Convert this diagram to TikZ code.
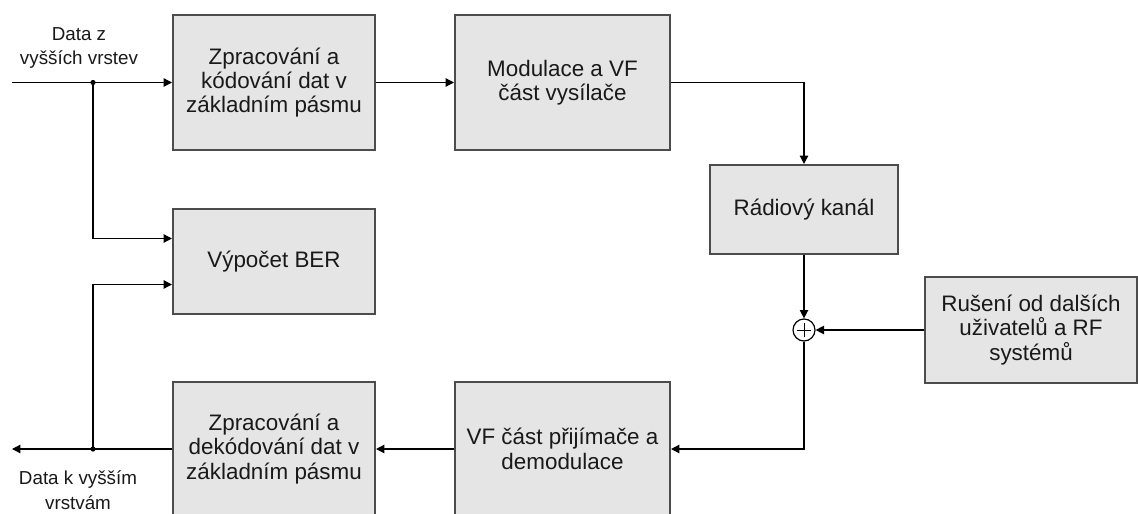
\documentclass[tikz,border=0pt]{standalone}
\usepackage{fontspec}
\setmainfont{Liberation Sans}
\usetikzlibrary{arrows.meta}

\begin{document}
\begin{tikzpicture}[x=0.5pt, y=-0.5pt,
        block/.style={draw=black!70, line width=1pt, fill=black!10, align=center, inner sep=0pt,
            text=black!90, font=\fontsize{11.2}{12.2}\selectfont},
        datatext/.style={align=center, text=black!90, font=\fontsize{9.4}{12.2}\selectfont},
        sig/.style={-{Triangle[length=4.2pt, width=4.2pt]}, line width=0.65pt},
        adder/.style={circle, draw, line width=0.6pt, fill=white, minimum size=11pt, inner sep=0pt,
            path picture={
                \draw[line width=0.5pt] ([xshift=-3.6pt]path picture bounding box.center) -- ([xshift=3.6pt]path picture bounding box.center);
                \draw[line width=0.5pt] ([yshift=-3.6pt]path picture bounding box.center) -- ([yshift=3.6pt]path picture bounding box.center);
            }}]
        \clip (0, 0) rectangle (1138, 513);

        \node[block, minimum width=101pt, minimum height=67.5pt] (enc) at (274, 82.5) {Zpracování a\\kódování dat v\\základním pásmu};
        \node[block, minimum width=107.5pt, minimum height=67.5pt] (mod) at (562.5, 82.5) {Modulace a VF\\část vysílače};
        \node[block, minimum width=94pt, minimum height=44.5pt] (chan) at (804, 209.5) {Rádiový kanál};
        \node[block, minimum width=101pt, minimum height=52.5pt] (ber) at (274, 261.5) {Výpočet BER};
        \node[block, minimum width=106pt, minimum height=53pt] (rus) at (1031, 330) {Rušení od dalších\\uživatelů a RF\\systémů};
        \node[block, minimum width=101pt, minimum height=67pt] (dec) at (274, 449) {Zpracování a\\dekódování dat v\\základním pásmu};
        \node[block, minimum width=107.5pt, minimum height=67pt] (rx) at (562.5, 449) {VF část přijímače a\\demodulace};
        \node[adder] (sum) at (804, 330) {};

        \node[datatext] (datain) at (79, 48) {Data z\\vyšších vrstev};
        \node[datatext] (dataout) at (78, 490) {Data k vyšším\\vrstvám};

        \coordinate (in) at (12, 82.5);
        \coordinate (jin) at (93, 82.5);
        \coordinate (out) at (12, 449);
        \coordinate (jout) at (93, 449);

        \draw[sig] (in) -- (enc.west);
        \draw[sig] (jin) |- ([yshift=11.5pt]ber.west);
        \draw[sig] (dec.west) -- (out);
        \draw[sig] (jout) |- ([yshift=-11.5pt]ber.west);
        \draw[sig] (enc) -- (mod);
        \draw[sig] (mod) -| (chan);
        \draw[sig] (chan) -- (sum);
        \draw[sig] (rus) -- (sum);
        \draw[sig] (sum) |- (rx);
        \draw[sig] (rx) -- (dec);

        \foreach \j in {jin, jout} {
            \fill (\j) circle (1.3pt);
        }
    \end{tikzpicture}
\end{document}
